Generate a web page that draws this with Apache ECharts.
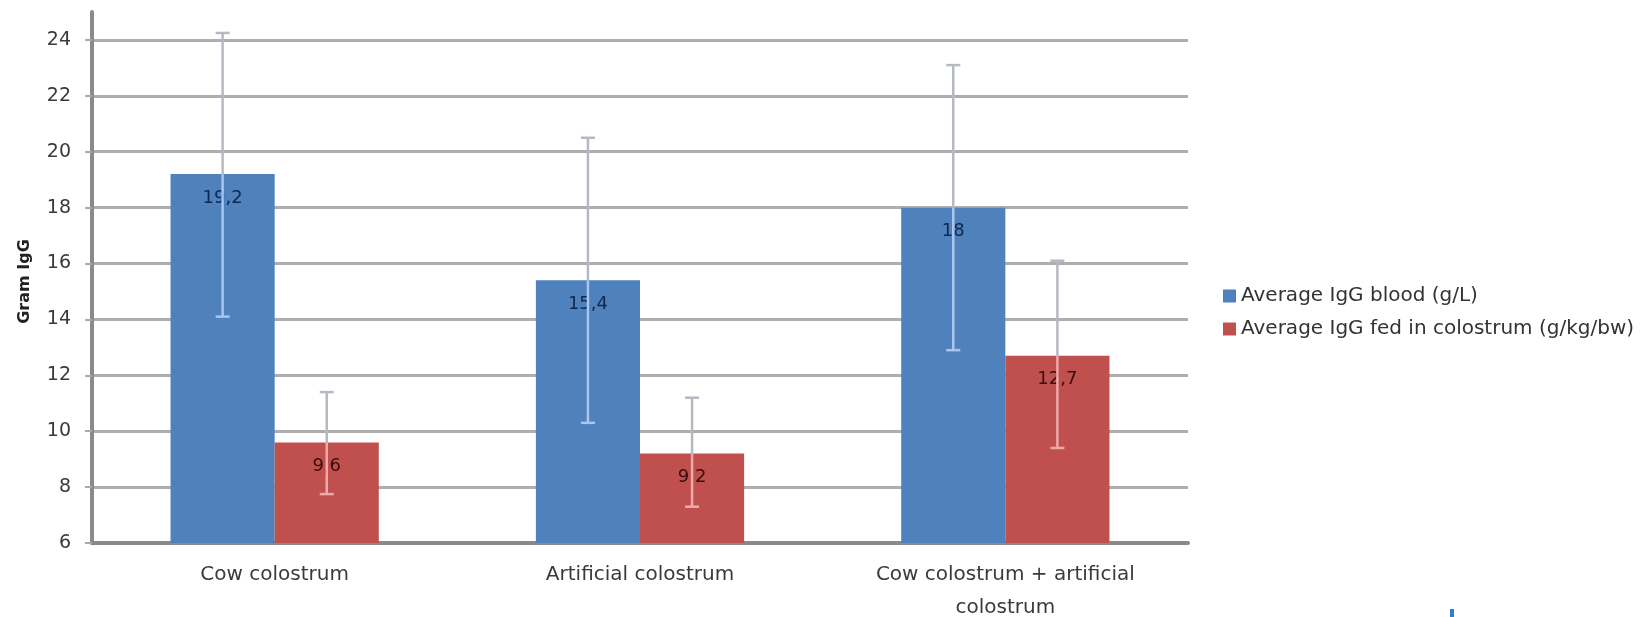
<!DOCTYPE html>
<html>
<head>
<meta charset="utf-8">
<script src="https://cdn.jsdelivr.net/npm/echarts@6.0.0/dist/echarts.min.js"></script>
<style>
  html, body { margin: 0; padding: 0; background: #fff; }
  #chart { width: 1648px; height: 617px; }
</style>
</head>
<body>
<div id="chart"></div>
<script>
// categories and values
const categories = ['Cow colostrum', 'Artificial colostrum', 'Cow colostrum + artificial\ncolostrum']
const bloodIgG = [19.2, 15.4, 18]
const bloodLow = [14.1, 10.3, 12.9]
const bloodHigh = [24.25, 20.5, 23.1]
const fedIgG = [9.6, 9.2, 12.7]
const fedLow = [7.75, 7.3, 9.4]
const fedHigh = [11.4, 11.2, 16.1]
const yTicks = [6, 8, 10, 12, 14, 16, 18, 20, 22, 24]

const seriesNames = ['Average IgG blood (g/L)', 'Average IgG fed in colostrum (g/kg/bw)']
const BAR_GAP = 0.43

const chart = echarts.init(document.getElementById('chart'))

// error bar: light part inside the bar, grey part above it
function errorBar(side, innerColor) {
    return function (params, api) {
        const i = api.value(0)
        const band = api.size([1, 0])[0]
        const barW = band * (1 - BAR_GAP) / 2
        const cx = api.coord([i, 0])[0] + side * barW / 2
        const yLow = api.coord([i, api.value(1)])[1]
        const yHigh = api.coord([i, api.value(2)])[1]
        const yBar = api.coord([i, api.value(3)])[1]
        const outer = '#b4b9c2'
        const cap = 7
        return {
            type: 'group',
            children: [
                { type: 'line', shape: { x1: cx, y1: yLow, x2: cx, y2: yBar }, style: { stroke: innerColor, lineWidth: 2.5 } },
                { type: 'line', shape: { x1: cx, y1: yBar, x2: cx, y2: yHigh }, style: { stroke: outer, lineWidth: 2.5 } },
                { type: 'line', shape: { x1: cx - cap, y1: yHigh, x2: cx + cap, y2: yHigh }, style: { stroke: outer, lineWidth: 2.5 } },
                { type: 'line', shape: { x1: cx - cap, y1: yLow, x2: cx + cap, y2: yLow }, style: { stroke: innerColor, lineWidth: 2.5 } },
            ],
        }
    }
}

const commaLabel = (p) => String(p.value).replace('.', ',')

const option = {
    animation: false,
    backgroundColor: '#ffffff',
    textStyle: { fontFamily: 'DejaVu Sans' },
    grid: {
        left: 92,
        right: 460,
        top: 12,
        bottom: 74,
        outerBoundsMode: 'none',
    },
    legend: {
        orient: 'vertical',
        left: 1218,
        top: 280,
        itemWidth: 13,
        itemHeight: 13,
        itemGap: 11,
        icon: 'rect',
        textStyle: { fontSize: 20, color: '#333', lineHeight: 22 },
        data: seriesNames,
    },
    xAxis: {
        type: 'category',
        data: categories,
        axisLine: { lineStyle: { color: '#8a8a8a', width: 4 } },
        axisTick: { show: false },
        axisLabel: {
            fontSize: 20,
            color: '#3a3a3a',
            margin: 15,
            lineHeight: 33,
        },
    },
    yAxis: {
        type: 'value',
        min: yTicks[0],
        max: 25,
        interval: 2,
        name: 'Gram IgG',
        nameLocation: 'middle',
        nameRotate: 90,
        nameGap: 59,
        nameTextStyle: { fontSize: 16, fontWeight: 'bold', color: '#222', padding: [0, 8, 0, 0] },
        axisLine: { show: true, lineStyle: { color: '#8a8a8a', width: 4 } },
        axisTick: { show: true, length: 7, lineStyle: { color: '#aaaaaa', width: 2 } },
        axisLabel: { fontSize: 19, color: '#3a3a3a', margin: 21, showMaxLabel: false },
        splitLine: { show: true, showMaxLine: false, lineStyle: { color: '#aeaeae', width: 3 } },
    },
    series: [
        {
            name: seriesNames[0],
            type: 'bar',
            data: bloodIgG,
            barGap: 0,
            barCategoryGap: (BAR_GAP * 100) + '%',
            itemStyle: { color: '#4f81bd' },
            label: { show: true, position: 'insideTop', distance: 15, fontSize: 18, color: '#10284f', formatter: commaLabel },
        },
        {
            name: seriesNames[1],
            type: 'bar',
            data: fedIgG,
            barGap: 0,
            barCategoryGap: (BAR_GAP * 100) + '%',
            itemStyle: { color: '#c0504d' },
            label: { show: true, position: 'insideTop', distance: 15, fontSize: 18, color: '#3a0c0c', formatter: commaLabel },
        },
        {
            type: 'custom',
            z: 5,
            renderItem: errorBar(-1, '#a9c6ee'),
            encode: { x: 0, y: [1, 2] },
            data: categories.map((c, i) => [i, bloodLow[i], bloodHigh[i], bloodIgG[i]]),
        },
        {
            type: 'custom',
            z: 5,
            renderItem: errorBar(1, '#eeaaaa'),
            encode: { x: 0, y: [1, 2] },
            data: categories.map((c, i) => [i, fedLow[i], fedHigh[i], fedIgG[i]]),
        },
    ],
    graphic: [
        { type: 'rect', left: 1450, top: 609, shape: { width: 4, height: 8 }, style: { fill: '#2f7fd0' } },
    ],
}

chart.setOption(option)
</script>
</body>
</html>
